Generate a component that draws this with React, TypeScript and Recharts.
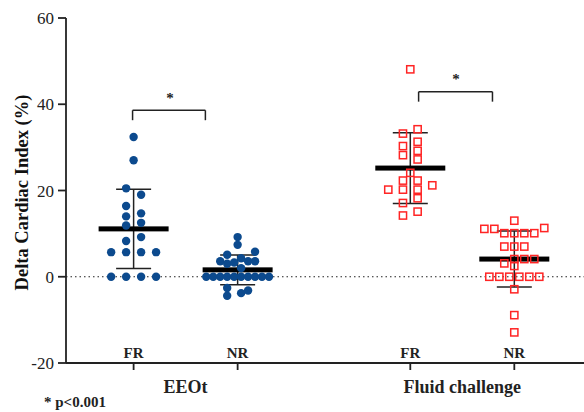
import React from "react";
import {
  ScatterChart,
  Scatter,
  XAxis,
  YAxis,
  ReferenceLine,
  ReferenceDot,
  ErrorBar,
} from "recharts";

const SERIF = "'Liberation Serif', 'Times New Roman', serif";
const INK = "#222";
const BLUE = "#0c4a8e";
const RED = "#ff2424";

// x position of each sub-group on the axis
const subPos = [1, 2, 3.66, 4.66];
const subLabels = ["FR", "NR", "FR", "NR"];
const groupPos = [1.5, 4.16];
const groupNames = ["EEOt", "Fluid challenge"];
const yTicks = [-20, 0, 20, 40, 60];

// points as [jitter slot, delta CI %]
const eeotFR: [number, number][] = [
  [0, 32.4], [0, 27.0], [-0.5, 20.5], [0.5, 19.0], [-0.5, 16.4], [0.5, 14.7],
  [-0.5, 14.0], [0.5, 12.5], [-0.5, 11.9], [0.5, 9.2], [-0.5, 8.3],
  [-1.5, 5.7], [-0.5, 5.7], [0.5, 5.7], [1.5, 5.7],
  [-1.5, 0], [-0.5, 0], [0.5, 0], [1.5, 0],
];
const eeotNR: [number, number][] = [
  [0, 9.2], [0, 7.4], [-1.5, 5.1], [2.5, 5.8], [-2.5, 3.6], [-1.5, 3.0],
  [-0.5, 3.3], [0.5, 4.3], [1.5, 3.6], [2.5, 3.6], [0.5, 2.0],
  [-4.5, 0], [-3.5, 0], [-2.5, 0], [-1.5, 0], [-0.5, 0], [0.5, 0], [1.5, 0],
  [2.5, 0], [3.5, 0], [4.5, 0],
  [-1.5, -2.6], [-1.5, -4.4], [0.5, -3.8], [1.5, -3.2],
];
const fluidFR: [number, number][] = [
  [0, 48.1], [-0.5, 33.2], [0.5, 34.2], [-0.5, 30.3], [0.5, 31.3], [-0.5, 28.2],
  [0.5, 29.2], [0.5, 27.2], [0, 24.1], [-0.5, 22.3], [0.5, 22.3], [-1.5, 20.2],
  [1.5, 21.2], [-0.5, 20.2], [0.5, 20.2], [0.5, 18.2], [-0.5, 17.1],
  [0.5, 15.1], [-0.5, 14.2],
];
const fluidNR: [number, number][] = [
  [0, 13.0], [-3, 11.1], [-2, 11.1], [3, 11.3],
  [-1, 10.1], [0, 10.1], [1, 10.1], [2, 10.1],
  [-1, 7.0], [0, 7.0], [1, 7.0],
  [0, 4.1], [1, 4.1], [2, 4.1], [-1, 3.1], [0, 2.5],
  [-2.5, 0], [-1.5, 0], [-0.5, 0], [0.5, 0], [1.5, 0], [2.5, 0],
  [0, -2.9], [0, -8.9], [0, -12.9],
];

const means = [11.1, 1.6, 25.2, 4.1];
const sds = [9.2, 3.45, 8.2, 6.5];

// significance brackets: [x start, x end, top y, leg bottom y, star x, star y]
const brackets: [number, number, number, number, number, number][] = [
  [0.99, 1.69, 38.6, 36.3, 1.35, 42.2],
  [3.74, 4.45, 42.9, 40.6, 4.1, 46.6],
];

const slotStep = [0.144, 0.067, 0.141, 0.096];

const toPoints = (pts: [number, number][], g: number) =>
  pts.map(([s, v]) => ({ x: subPos[g] + s * slotStep[g], y: v }));

const meanData = means.map((m, i) => ({ x: subPos[i], y: m, sd: sds[i] }));
const groupAnchors = groupPos.map((x) => ({ x, y: 0 }));

const Dot = (p: any) => <circle cx={p.cx} cy={p.cy} r={4.2} fill={BLUE} />;
const Square = (p: any) => (
  <rect x={p.cx - 3.6} y={p.cy - 3.6} width={7.2} height={7.2} fill="none" stroke={RED} strokeWidth={1.5} />
);
const MeanBar = (p: any) => <rect x={p.cx - 35} y={p.cy - 2.5} width={70} height={5} fill="#000" />;
const Nothing = () => <g />;
const Star = (p: any) => (
  <text x={p.cx} y={p.cy + 8} textAnchor="middle" fontFamily={SERIF} fontSize={15} fontWeight="bold" fill={INK}>
    *
  </text>
);

const SubTick = (p: any) => {
  const i = subPos.indexOf(p.payload.value);
  return (
    <text x={p.x} y={p.y - 14} textAnchor="middle" fontFamily={SERIF} fontSize={15} fontWeight="bold" fill={INK}>
      {subLabels[i]}
    </text>
  );
};

const GroupTick = (p: any) => {
  const i = groupPos.indexOf(p.payload.value);
  return (
    <text x={p.x} y={p.y + 13} textAnchor="middle" fontFamily={SERIF} fontSize={18} fontWeight="bold" fill={INK}>
      {groupNames[i]}
    </text>
  );
};

const yLabel = (props: any) => {
  const vb = props.viewBox;
  const cx = vb.x + 28;
  const cy = vb.y + vb.height / 2 + 2;
  return (
    <text
      x={cx}
      y={cy}
      transform={`rotate(-90, ${cx}, ${cy})`}
      textAnchor="middle"
      fontFamily={SERIF}
      fontSize={18.5}
      fontWeight="bold"
      fill="#111"
    >
      Delta Cardiac Index (%)
    </text>
  );
};

export default function App() {
  return (
    <div style={{ position: "absolute", left: 0, top: 0, width: 584, height: 412, background: "#fff" }}>
      <ScatterChart width={584} height={412} margin={{ top: 18, right: 0, left: 0, bottom: 0 }}>
        <XAxis
          type="number"
          dataKey="x"
          domain={[0.35, 5.33]}
          ticks={subPos}
          tick={<SubTick />}
          tickSize={7}
          tickMargin={2}
          height={17}
          axisLine={{ stroke: INK, strokeWidth: 1.8 }}
          tickLine={{ stroke: INK, strokeWidth: 1.8 }}
          allowDataOverflow
        />
        <XAxis
          xAxisId="grp"
          type="number"
          dataKey="x"
          domain={[0.35, 5.33]}
          ticks={groupPos}
          tick={<GroupTick />}
          tickSize={0}
          tickMargin={0}
          height={32}
          axisLine={false}
          tickLine={false}
          allowDataOverflow
        />
        <YAxis
          type="number"
          dataKey="y"
          domain={[-20, 60]}
          ticks={yTicks}
          width={66}
          tickSize={8}
          tickMargin={4}
          tick={{ fontFamily: SERIF, fontSize: 17, fill: INK }}
          axisLine={{ stroke: INK, strokeWidth: 1.8 }}
          tickLine={{ stroke: INK, strokeWidth: 1.8 }}
          label={yLabel}
          allowDataOverflow
        />
        <ReferenceLine y={0} stroke={INK} strokeWidth={1.2} strokeDasharray="1.5 3" />
        {brackets.map((b, i) => (
          <ReferenceLine
            key={"h" + i}
            segment={[{ x: b[0], y: b[2] }, { x: b[1], y: b[2] }]}
            stroke={INK}
            strokeWidth={1.5}
          />
        ))}
        {brackets.map((b, i) => (
          <ReferenceLine
            key={"l" + i}
            segment={[{ x: b[0], y: b[2] }, { x: b[0], y: b[3] }]}
            stroke={INK}
            strokeWidth={1.5}
          />
        ))}
        {brackets.map((b, i) => (
          <ReferenceLine
            key={"r" + i}
            segment={[{ x: b[1], y: b[2] }, { x: b[1], y: b[3] }]}
            stroke={INK}
            strokeWidth={1.5}
          />
        ))}
        {brackets.map((b, i) => (
          <ReferenceDot key={"s" + i} x={b[4]} y={b[5]} r={0} shape={Star} />
        ))}
        <Scatter xAxisId="grp" data={groupAnchors} shape={Nothing} isAnimationActive={false} />
        <Scatter data={meanData} shape={MeanBar} isAnimationActive={false}>
          <ErrorBar dataKey="sd" direction="y" width={17.5} stroke={INK} strokeWidth={1.5} />
        </Scatter>
        <Scatter data={toPoints(eeotFR, 0)} shape={Dot} isAnimationActive={false} />
        <Scatter data={toPoints(eeotNR, 1)} shape={Dot} isAnimationActive={false} />
        <Scatter data={toPoints(fluidFR, 2)} shape={Square} isAnimationActive={false} />
        <Scatter data={toPoints(fluidNR, 3)} shape={Square} isAnimationActive={false} />
      </ScatterChart>
      <div
        style={{
          position: "absolute",
          left: 44,
          top: 395,
          fontFamily: SERIF,
          fontSize: 15,
          fontWeight: "bold",
          color: INK,
          lineHeight: 1,
          whiteSpace: "nowrap",
        }}
      >
        * p&lt;0.001
      </div>
    </div>
  );
}
